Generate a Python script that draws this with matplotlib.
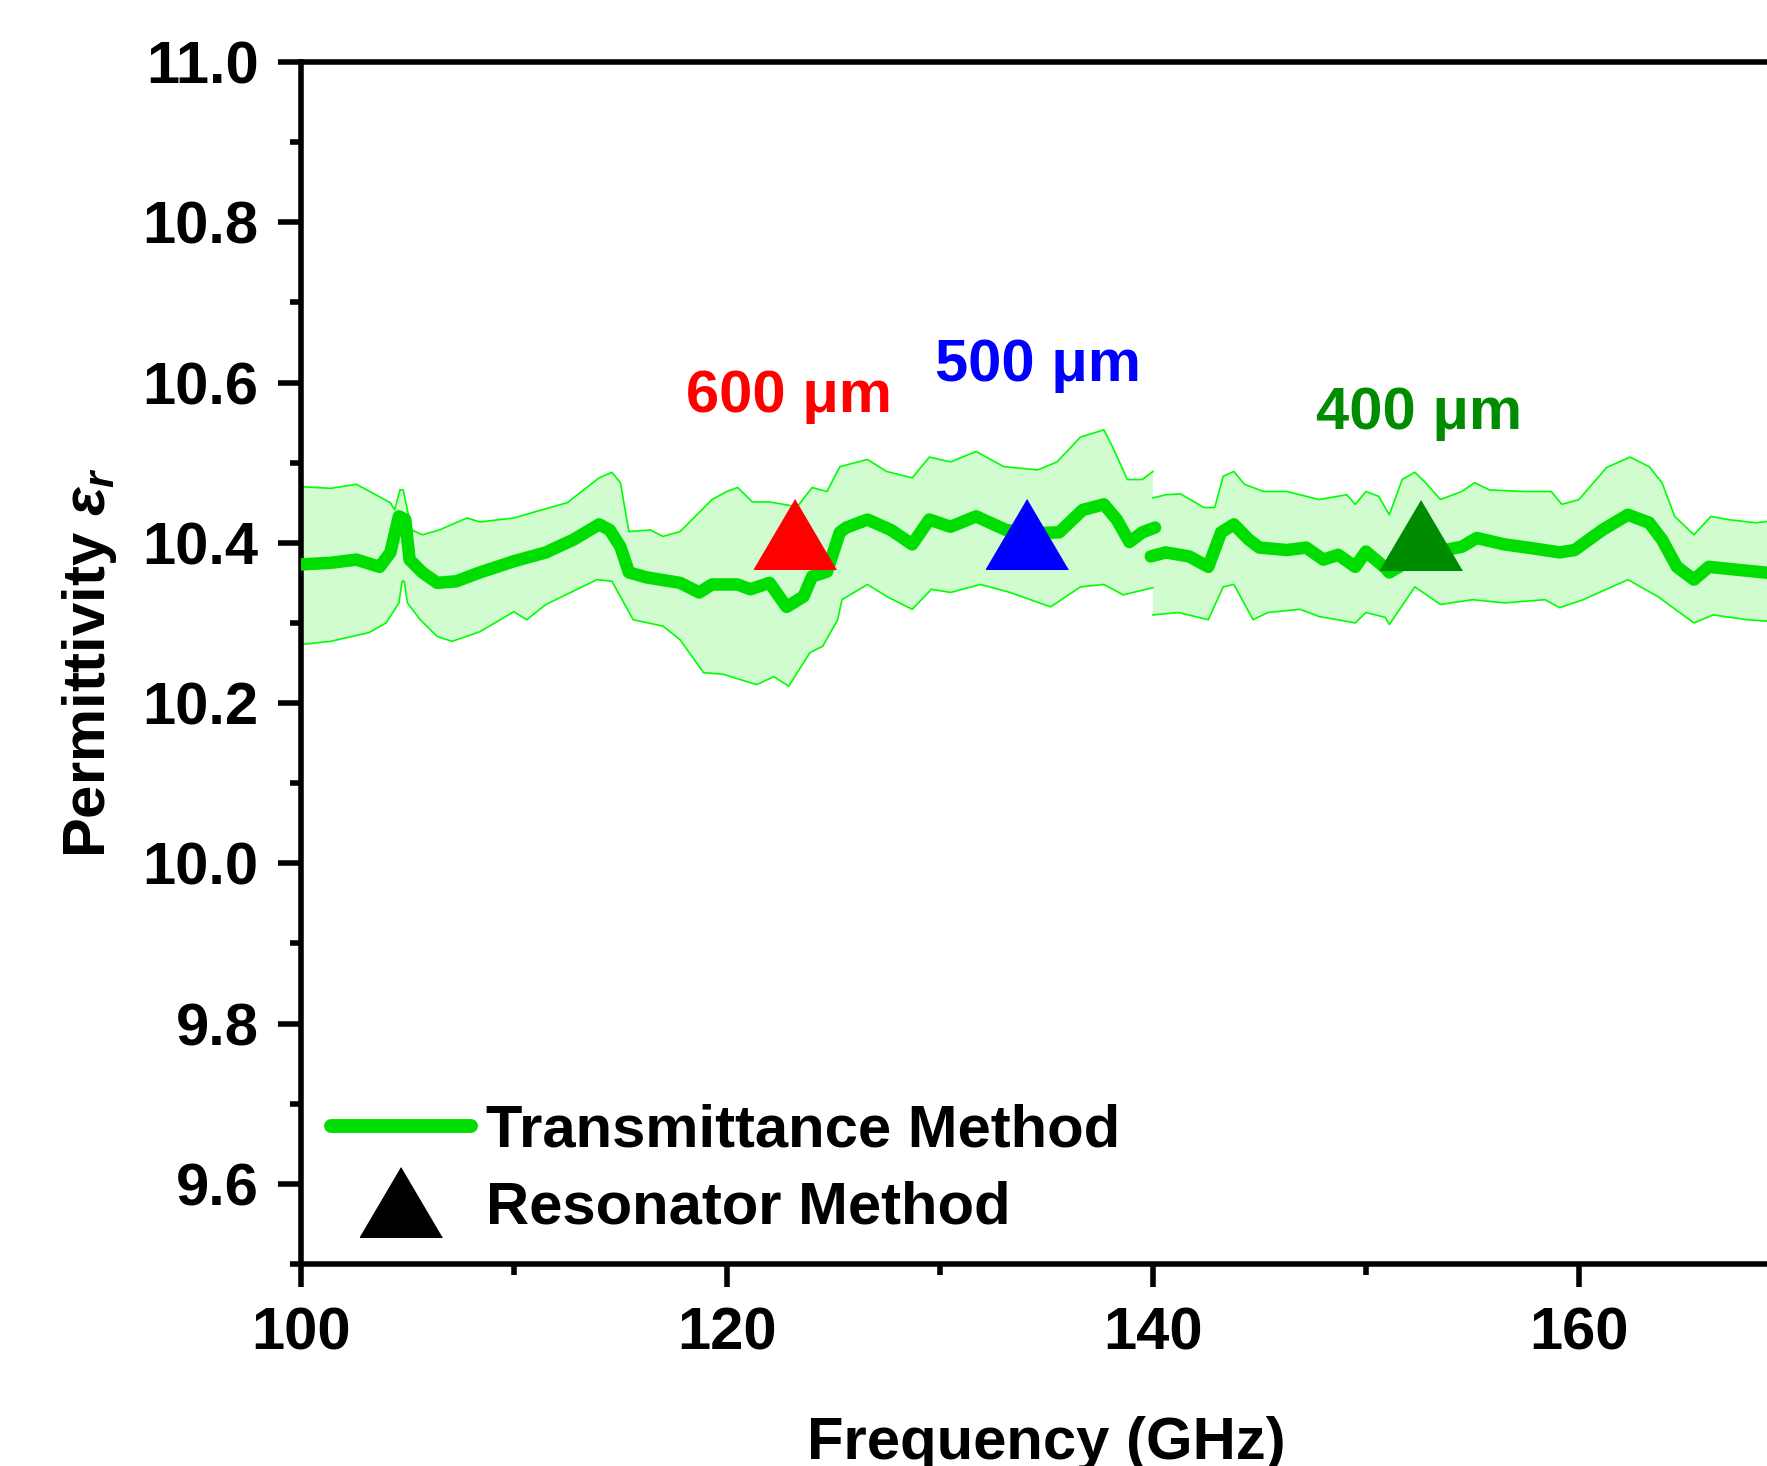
import numpy as np
import matplotlib.pyplot as plt
from matplotlib.lines import Line2D
from matplotlib.ticker import MultipleLocator

# Fuente tipo Arial en negrita
plt.rcParams['font.family'] = ['Liberation Sans', 'DejaVu Sans']
plt.rcParams['font.weight'] = 'bold'
plt.rcParams['mathtext.fontset'] = 'custom'
plt.rcParams['mathtext.rm'] = 'Liberation Sans:bold'
plt.rcParams['mathtext.it'] = 'Liberation Sans:italic:bold'
plt.rcParams['mathtext.bf'] = 'Liberation Sans:bold'

# Método de transmitancia, tramo 1 (100-140 GHz)
freq_1 = [100.0, 101.4, 102.6, 103.7, 104.2, 104.6, 104.9, 105.1, 105.7, 106.4,
          107.3, 108.4, 110.0, 111.5, 112.8, 114.0, 114.5, 115.0, 115.4, 116.2,
          117.8, 118.7, 119.3, 120.5, 121.1, 122.0, 122.8, 123.6, 124.0, 124.7,
          125.3, 125.6, 126.6, 127.7, 128.7, 129.5, 130.5, 131.7, 133.1, 134.3,
          135.6, 136.7, 137.7, 138.3, 138.9, 139.5, 140.1]
eps_1 = [10.373, 10.375, 10.379, 10.370, 10.388, 10.433, 10.429, 10.379, 10.363, 10.350,
         10.352, 10.363, 10.377, 10.388, 10.404, 10.423, 10.416, 10.395, 10.363, 10.357,
         10.350, 10.338, 10.348, 10.348, 10.342, 10.350, 10.320, 10.333, 10.358, 10.364,
         10.413, 10.419, 10.429, 10.416, 10.398, 10.429, 10.420, 10.433, 10.416, 10.412,
         10.413, 10.441, 10.448, 10.429, 10.401, 10.413, 10.419]

up_f_1 = [100.0, 101.4, 102.6, 103.1, 104.2, 104.4, 104.65, 104.8, 105.2, 105.7,
          106.5, 107.1, 107.8, 108.4, 110.0, 110.9, 112.5, 114.0, 114.6, 115.0,
          115.4, 116.4, 117.0, 117.8, 119.3, 120.0, 120.5, 121.2, 122.0, 123.3,
          124.0, 124.7, 125.3, 126.6, 127.5, 128.7, 129.5, 130.5, 131.7, 133.0,
          134.6, 135.5, 136.6, 137.7, 138.1, 138.8, 139.5, 140.0]
up_1 = [10.470, 10.468, 10.473, 10.466, 10.450, 10.441, 10.466, 10.466, 10.416, 10.410,
        10.416, 10.423, 10.431, 10.426, 10.431, 10.438, 10.450, 10.481, 10.488, 10.475,
        10.414, 10.416, 10.408, 10.414, 10.454, 10.464, 10.469, 10.451, 10.451, 10.445,
        10.469, 10.464, 10.495, 10.504, 10.489, 10.481, 10.507, 10.501, 10.514, 10.495,
        10.491, 10.501, 10.532, 10.541, 10.520, 10.479, 10.479, 10.489]

lo_f_1 = [100.0, 101.4, 103.2, 104.0, 104.6, 104.75, 104.85, 105.0, 105.6, 106.4,
          107.1, 108.4, 110.0, 110.6, 111.5, 113.9, 114.6, 115.6, 117.0, 117.8,
          118.9, 119.8, 121.4, 122.2, 122.9, 123.9, 124.5, 125.2, 125.4, 126.6,
          127.5, 128.7, 129.6, 130.5, 131.9, 133.3, 135.2, 136.6, 137.7, 138.6, 140.0]
lo_1 = [10.273, 10.277, 10.288, 10.300, 10.325, 10.352, 10.352, 10.325, 10.304, 10.283,
        10.277, 10.289, 10.314, 10.304, 10.323, 10.354, 10.352, 10.304, 10.296, 10.279,
        10.238, 10.236, 10.223, 10.233, 10.221, 10.263, 10.271, 10.304, 10.329, 10.348,
        10.333, 10.317, 10.342, 10.338, 10.348, 10.338, 10.320, 10.345, 10.348, 10.335, 10.344]

# Método de transmitancia, tramo 2 (140-170 GHz)
freq_2 = [139.9, 140.6, 141.7, 142.6, 143.2, 143.8, 144.5, 145.0, 146.3, 147.2,
          148.0, 148.7, 149.5, 150.0, 150.9, 151.1, 152.5, 154.5, 155.2, 156.5,
          157.6, 159.1, 159.8, 161.1, 162.3, 163.3, 163.9, 164.6, 165.4, 166.1,
          167.2, 168.7, 170.0]
eps_2 = [10.383, 10.388, 10.383, 10.370, 10.413, 10.423, 10.404, 10.394, 10.391, 10.394,
         10.379, 10.385, 10.370, 10.389, 10.369, 10.363, 10.385, 10.395, 10.406, 10.398,
         10.394, 10.388, 10.391, 10.416, 10.435, 10.425, 10.404, 10.370, 10.354, 10.370,
         10.367, 10.363, 10.360]

up_f_2 = [140.0, 140.6, 141.3, 142.4, 142.9, 143.3, 143.8, 144.3, 145.2, 146.3,
          147.8, 149.1, 149.5, 150.0, 150.6, 151.1, 151.7, 152.3, 152.8, 153.5,
          154.5, 155.1, 155.8, 157.4, 158.7, 159.2, 160.0, 161.3, 162.4, 163.3,
          163.9, 164.5, 165.4, 166.2, 167.0, 168.3, 170.0]
up_2 = [10.456, 10.460, 10.461, 10.444, 10.444, 10.483, 10.489, 10.473, 10.464, 10.464,
        10.454, 10.460, 10.448, 10.464, 10.458, 10.435, 10.479, 10.488, 10.475, 10.454,
        10.464, 10.475, 10.466, 10.464, 10.464, 10.448, 10.454, 10.494, 10.507, 10.495,
        10.475, 10.433, 10.410, 10.433, 10.429, 10.425, 10.430]

lo_f_2 = [140.0, 141.2, 142.6, 143.3, 143.8, 144.7, 145.4, 146.9, 147.8, 149.5,
          150.0, 150.9, 151.1, 152.3, 153.5, 155.0, 156.5, 158.4, 159.1, 160.2,
          162.3, 163.7, 165.4, 166.3, 167.9, 170.0]
lo_2 = [10.310, 10.313, 10.304, 10.345, 10.348, 10.304, 10.313, 10.317, 10.308, 10.300,
        10.313, 10.307, 10.298, 10.345, 10.323, 10.329, 10.325, 10.329, 10.319, 10.329,
        10.354, 10.333, 10.300, 10.310, 10.304, 10.300]

# Método de resonador
res_freq = [123.2, 134.1, 152.6]
res_eps = [10.411, 10.411, 10.410]
res_colors = ['#ff0000', '#0000ff', '#008c00']
res_labels = ['600 μm', '500 μm', '400 μm']
label_pos = [(122.9, 10.582), (134.6, 10.621), (152.5, 10.561)]
label_colors = ['#ff0000', '#0000ff', '#008c00']

line_color = '#00dd00'
edge_color = '#00ff00'
fill_color = '#d0fcd0'
tri = [(0, 0.85), (-1, -0.85), (1, -0.85)]

fig = plt.figure(figsize=(17.67, 14.66), dpi=100)
ax = fig.add_axes([0.1703, 0.1378, 0.8438, 0.8199])

# Bandas de incertidumbre y curvas
for fu, u, fl, l, f, e in [(up_f_1, up_1, lo_f_1, lo_1, freq_1, eps_1),
                           (up_f_2, up_2, lo_f_2, lo_2, freq_2, eps_2)]:
    ax.fill(np.r_[fu, fl[::-1]], np.r_[u, l[::-1]], color=fill_color, lw=0, zorder=1)
    ax.plot(fu, u, color=edge_color, lw=1.2, zorder=2)
    ax.plot(fl, l, color=edge_color, lw=1.2, zorder=2)
    ax.plot(f, e, color=line_color, lw=9, solid_capstyle='round',
            solid_joinstyle='round', zorder=3)

for f, e, c in zip(res_freq, res_eps, res_colors):
    ax.plot(f, e, marker=tri, ms=59, color=c, ls='none', zorder=4)

for (x, y), t, c in zip(label_pos, res_labels, label_colors):
    ax.text(x, y, t, color=c, fontsize=43, fontweight='bold', ha='center', va='center')

ax.set_xlim(100, 170)
ax.set_ylim(9.5, 11.0)
ax.xaxis.set_major_locator(MultipleLocator(20))
ax.xaxis.set_minor_locator(MultipleLocator(10))
ax.yaxis.set_major_locator(MultipleLocator(0.2))
ax.yaxis.set_minor_locator(MultipleLocator(0.1))
ax.yaxis.set_major_formatter(plt.FormatStrFormatter('%.1f'))

for s in ax.spines.values():
    s.set_linewidth(4)
ax.tick_params(which='major', direction='out', length=16.5, width=4, labelsize=43, pad=14)
ax.tick_params(which='minor', direction='out', length=8, width=4)
ax.tick_params(top=False, right=False, which='both')

ax.set_xlabel('Frequency (GHz)', fontsize=43, fontweight='bold', labelpad=39)
ax.set_ylabel(r'Permittivity $\varepsilon_r$', fontsize=43, fontweight='bold', labelpad=17)

handles = [Line2D([], [], color=line_color, lw=10, solid_capstyle='round'),
           Line2D([], [], color='black', marker=tri, ms=59, ls='none')]
ax.legend(handles, ['Transmittance Method', 'Resonator Method'], loc='lower left',
          bbox_to_anchor=(0.004, 0.004), frameon=False,
          handlelength=2.35, handletextpad=0.25, labelspacing=0.36, borderaxespad=0,
          prop={'weight': 'bold', 'size': 43})

fig.savefig('out.png', dpi=100)
